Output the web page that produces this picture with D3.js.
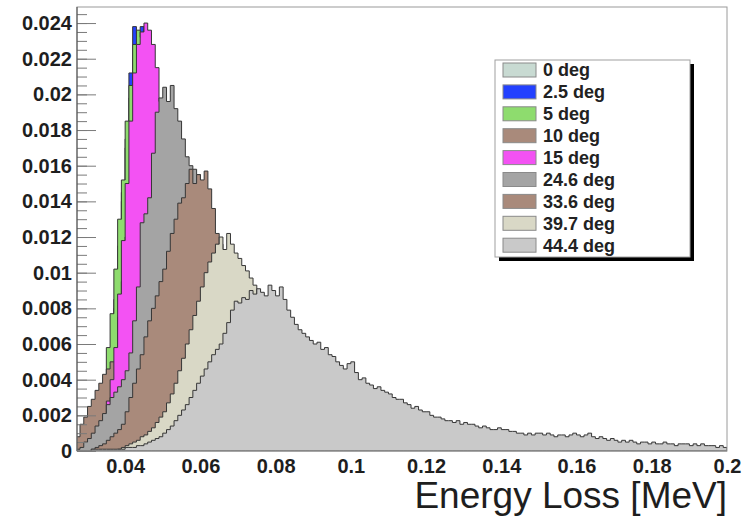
<!DOCTYPE html>
<html>
<head>
<meta charset="utf-8">
<script src="https://cdn.jsdelivr.net/npm/d3@7"></script>
<style>
   body { margin: 0; background: #fff; }
   svg { display: block; font-family: "Liberation Sans", Arial, sans-serif; }
   .axis .tick text { font-weight: bold; font-size: 20px; fill: #1e1e1e; }
   .legend text { font-weight: bold; font-size: 18px; fill: #222; }
   .xtitle { font-size: 37px; fill: #1e1e1e; }
</style>
</head>
<body>
<div id="chart"></div>
<script>
const width = 751;
const height = 521;

// histogram binning (MeV)
const binWidth = 0.001;

const labels = ["0 deg", "2.5 deg", "5 deg", "10 deg", "15 deg", "24.6 deg", "33.6 deg", "39.7 deg", "44.4 deg"];

// each histogram: first bin low edge + bin contents
const h0Start = 0.030;
const h0 = [.0002,.0004,.0007,.0012,.002,.0032,.005,.008,.011,.014,.017,.0198,.022,.0228,.0225,.0218,.0208,.0192,.017,.0146,
   .012,.0097,.0075,.0057,.0042,.003,.0021,.0014,.0009,.0006,.0004,.0002];

const h2_5Start = 0.030;
const h2_5 = [.0003,.0005,.0009,.0014,.0022,.0035,.0055,.0085,.0115,.0145,.0175,.0212,.0238,.0234,.0238,.0225,.0212,.0195,.0172,.0148,
   .0122,.0098,.0076,.0058,.0043,.0031,.0022,.0015,.001,.0007,.0004,.0002];

const h5Start = 0.029;
const h5 = [.0001,.0003,.0005,.0009,.0015,.0028,.0058,.0077,.0102,.013,.0152,.0185,.0205,.0228,.0236,.0232,.0236,.0228,.021,.0185,
   .016,.013,.0105,.008,.006,.0045,.0033,.0024,.0017,.0012,.0008,.0005,.0003,.0002];

const h10Start = 0.027;
const h10 = [.0008,.0015,.0019,.0025,.0029,.0034,.0038,.0043,.0046,.005,.005,.0075,.0095,.012,.014,.016,.017,.0175,.017,.0165,
   .0155,.014,.012,.01,.008,.006,.0045,.0032,.0022,.0015,.001,.0007,.0005,.0003];

const h15Start = 0.030;
const h15 = [.0001,.0002,.0004,.0007,.0012,.0028,.004,.0058,.0088,.0118,.015,.0185,.0212,.0228,.0235,.024,.0236,.0228,.0215,.0196,
   .0175,.0152,.0128,.0104,.0082,.0063,.0047,.0035,.0025,.0018,.0012,.0008,.0005,.0003,.0002,.0001];

const h24_6Start = 0.027;
const h24_6 = [.0001,.0002,.0005,.0007,.001,.0014,.0017,.0021,.0026,.003,.0033,.0036,.004,.0045,.0055,.0073,.0092,.0128,.0133,.0142,
   .0167,.019,.0198,.0204,.0196,.0205,.0192,.0185,.0175,.0165,.016,.0158,.0155,.0148,.014,.0132,.012,.0108,.0096,.0085,
   .0074,.0064,.0055,.0046,.0038,.0031,.0025,.002,.0016,.0012,.0009,.0007,.0005,.0004,.0003,.0002,.0001];

const h33_6Start = 0.031;
const h33_6 = [.0001,.0002,.0003,.0004,.0006,.0008,.001,.0012,.0015,.0022,.003,.0038,.0046,.0054,.0064,.0073,.008,.0087,.0095,.0102,
   .0112,.0122,.013,.0139,.0142,.015,.0158,.015,.0155,.0152,.0157,.0147,.0136,.0122,.0116,.011,.0102,.0094,.0086,.0078,
   .0071,.0064,.0057,.005,.0044,.0038,.0033,.0028,.0024,.002,.0016,.0013,.001,.0008,.0006,.0005,.0004,.0003,.0002,.0001];

const h39_7Start = 0.038;
const h39_7 = [.0001,.0002,.0003,.0004,.0005,.0006,.0008,.0009,.0011,.0013,.0016,.0019,.0022,.0027,.0032,.0038,.0045,.0052,.006,.0068,
   .0076,.0084,.0092,.01,.0106,.0111,.0116,.012,.0113,.0122,.0116,.0111,.0108,.0104,.0101,.0097,.0093,.0087,.0081,.0075,
   .0069,.0063,.0057,.0051,.0046,.0041,.0036,.0031,.0027,.0023,.0019,.0016,.0013,.0011,.0009,.0007,.0006,.0005,.0004,.0003,
   .0002,.0002,.0001];

const h44_4Start = 0.031;
const h44_4 = [.0001,.0001,.0001,.0001,.0001,.0001,.0001,.0001,.0001,
   .0002,.0002,.0002,.0003,.0003,.0004,.0005,.0006,.0007,.0008,
   .001,.0012,.0014,.0017,.002,.0023,.0026,.003,.0034,.0038,
   .0042,.0046,.005,.0054,.0057,.006,.0066,.0072,.0079,.0084,
   .0083,.0086,.0085,.009,.0088,.0091,.0089,.0087,.0093,.009,
   .0087,.0092,.0085,.0079,.0075,.0071,.0068,.0066,.0064,.0062,
   .006,.0061,.0057,.0058,.0054,.0053,.005,.0048,.0046,.0049,
   .005,.0044,.004,.0041,.0038,.0037,.0035,.0036,.0034,.0033,
   .0032,.003,.0029,.0029,.0027,.0026,.0024,.0025,.0023,.0022,
   .0022,.002,.0019,.0019,.0018,.0017,.0017,.0016,.0017,.0015,
   .0016,.0015,.0015,.0014,.0013,.0014,.0013,.0012,.0012,.0013,
   .0012,.0012,.0011,.0011,.001,.001,.0009,.001,.0009,.001,
   .001,.0009,.001,.0009,.0008,.0009,.0009,.0008,.0009,.001,
   .0009,.0008,.0009,.001,.0008,.0007,.0008,.0007,.0006,.0007,
   .0006,.0005,.0006,.0005,.0006,.0005,.0004,.0005,.0005,.0004,
   .0005,.0004,.0004,.0005,.0004,.0004,.0003,.0004,.0004,.0004,
   .0003,.0004,.0003,.0004,.0003,.0003,.0003,.0002,.0003,.0002];

const starts = [h0Start, h2_5Start, h5Start, h10Start, h15Start, h24_6Start, h33_6Start, h39_7Start, h44_4Start];
const contents = [h0, h2_5, h5, h10, h15, h24_6, h33_6, h39_7, h44_4];

const xTicks = [0.04, 0.06, 0.08, 0.1, 0.12, 0.14, 0.16, 0.18, 0.2];
const yTicks = [0, 0.002, 0.004, 0.006, 0.008, 0.01, 0.012, 0.014, 0.016, 0.018, 0.02, 0.022, 0.024];

const xDomain = [0.0272, 0.2];
const yMax = 0.0249;

const fillColors = ["#c8dad2", "#2341ff", "#8edc6e", "#a98a7b", "#f352f3", "#a4a4a4", "#a98a7b", "#d9d8c6", "#c9c9c9"];

const plot = { left: 77, right: 727, top: 7, bottom: 451 };

const svg = d3.select("#chart").append("svg")
   .attr("width", width)
   .attr("height", height);

svg.append("rect")
   .attr("width", width).attr("height", height)
   .attr("fill", "#fff");

const x = d3.scaleLinear().domain(xDomain).range([plot.left, plot.right]);
const y = d3.scaleLinear().domain([0, yMax]).range([plot.bottom, plot.top]);

svg.append("clipPath").attr("id", "plotclip")
   .append("rect")
   .attr("x", plot.left).attr("y", plot.top)
   .attr("width", plot.right - plot.left).attr("height", plot.bottom - plot.top);

const area = d3.area()
   .curve(d3.curveStepAfter)
   .x(d => x(d[0]))
   .y0(y(0))
   .y1(d => y(d[1]));

const hists = svg.append("g").attr("clip-path", "url(#plotclip)");

// drawn in legend order, later histograms on top
contents.forEach((vals, k) => {
   const pts = vals.map((v, i) => [starts[k] + i * binWidth, v]);
   pts.push([starts[k] + vals.length * binWidth, vals[vals.length - 1]]);
   hists.append("path")
      .datum(pts)
      .attr("d", area)
      .attr("fill", fillColors[k])
      .attr("stroke", "#363636")
      .attr("stroke-width", 1);
});

// frame
svg.append("rect")
   .attr("x", plot.left).attr("y", plot.top)
   .attr("width", plot.right - plot.left).attr("height", plot.bottom - plot.top)
   .attr("fill", "none")
   .attr("stroke", "#9a9a9a");

// y axis, ticks pointing into the frame
const yMinor = svg.append("g")
   .attr("transform", `translate(${plot.left},0)`)
   .call(d3.axisLeft(y).tickValues(d3.range(0, 0.0246, 0.0005)).tickSize(-10).tickFormat(""));
yMinor.select(".domain").remove();
yMinor.selectAll("line").attr("stroke", "#7a7a7a");

const yAxis = svg.append("g")
   .attr("class", "axis")
   .attr("transform", `translate(${plot.left},0)`)
   .call(d3.axisLeft(y).tickValues(yTicks).tickSize(-19).tickPadding(5).tickFormat(d => d));
yAxis.select(".domain").remove();
yAxis.selectAll("line").attr("stroke", "#7a7a7a");

svg.append("line")
   .attr("x1", plot.left).attr("x2", plot.left)
   .attr("y1", plot.top).attr("y2", plot.bottom)
   .attr("stroke", "#4a4a4a");

const xAxis = svg.append("g")
   .attr("class", "axis")
   .attr("transform", `translate(0,${plot.bottom})`)
   .call(d3.axisBottom(x).tickValues(xTicks).tickSize(0).tickPadding(8).tickFormat(d => d));
xAxis.select(".domain").remove();

svg.append("line")
   .attr("x1", plot.left).attr("x2", plot.right)
   .attr("y1", plot.bottom).attr("y2", plot.bottom)
   .attr("stroke", "#808080");

svg.append("text")
   .attr("class", "xtitle")
   .attr("x", plot.right)
   .attr("y", 508)
   .style("text-anchor", "end")
   .text("Energy Loss [MeV]");

// legend
const legend = svg.append("g").attr("class", "legend");
const lx = 495, ly = 60, lw = 195, lh = 197;
const rowStep = 21.9;

legend.append("rect")
   .attr("x", lx + 4).attr("y", ly + 4)
   .attr("width", lw).attr("height", lh)
   .attr("fill", "#000");
legend.append("rect")
   .attr("x", lx).attr("y", ly)
   .attr("width", lw).attr("height", lh)
   .attr("fill", "#fff")
   .attr("stroke", "#a0a0a0");

labels.forEach((lab, i) => {
   const cy = ly + 10 + i * rowStep;
   legend.append("rect")
      .attr("x", lx + 8).attr("y", cy - 7)
      .attr("width", 33).attr("height", 14)
      .attr("fill", fillColors[i])
      .attr("stroke", "#8a8a8a");
   legend.append("text")
      .attr("x", lx + 48).attr("y", cy)
      .attr("dy", "0.36em")
      .text(lab);
});
</script>
</body>
</html>
